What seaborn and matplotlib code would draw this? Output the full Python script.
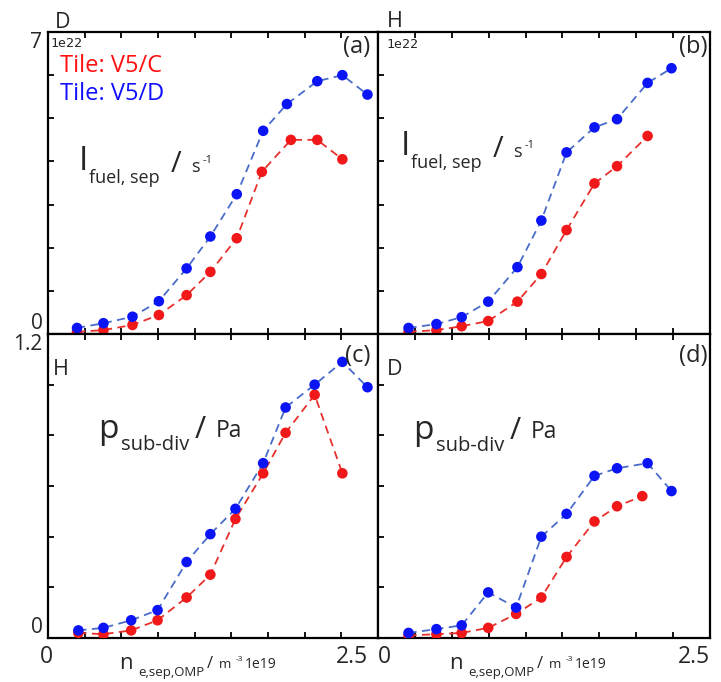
import numpy as np
import pandas as pd
import matplotlib
matplotlib.use("Agg")
import matplotlib.pyplot as plt
import matplotlib.transforms as mtrans
import seaborn as sns

# ---------------- data ----------------
# panel (a): D, I_fuel,sep  [1e22 s^-1]
a_x_C = [0.22, 0.42, 0.64, 0.84, 1.05, 1.23, 1.43, 1.62, 1.84, 2.04, 2.23]
a_y_C = [0.05, 0.09, 0.21, 0.44, 0.90, 1.44, 2.22, 3.76, 4.50, 4.50, 4.05]
a_x_D = [0.22, 0.42, 0.64, 0.84, 1.05, 1.23, 1.43, 1.63, 1.81, 2.04, 2.23, 2.42]
a_y_D = [0.14, 0.25, 0.40, 0.76, 1.52, 2.26, 3.24, 4.71, 5.33, 5.86, 6.00, 5.55]
# panel (b): H, I_fuel,sep  [1e22 s^-1]
b_x_C = [0.23, 0.44, 0.63, 0.83, 1.05, 1.23, 1.42, 1.63, 1.80, 2.03]
b_y_C = [0.05, 0.09, 0.18, 0.30, 0.75, 1.39, 2.41, 3.49, 3.89, 4.59]
b_x_D = [0.23, 0.44, 0.63, 0.83, 1.05, 1.23, 1.42, 1.63, 1.80, 2.03, 2.21]
b_y_D = [0.14, 0.23, 0.39, 0.75, 1.55, 2.63, 4.21, 4.79, 4.98, 5.82, 6.16]
# panel (c): H, p_sub-div [Pa]
c_x_C = [0.23, 0.42, 0.63, 0.83, 1.05, 1.23, 1.42, 1.63, 1.80, 2.02, 2.23]
c_y_C = [0.02, 0.015, 0.03, 0.07, 0.16, 0.25, 0.47, 0.65, 0.81, 0.96, 0.65]
c_x_D = [0.23, 0.42, 0.63, 0.83, 1.05, 1.23, 1.42, 1.63, 1.80, 2.02, 2.23, 2.42]
c_y_D = [0.03, 0.04, 0.07, 0.11, 0.30, 0.41, 0.51, 0.69, 0.91, 1.00, 1.09, 0.99]
# panel (d): D, p_sub-div [Pa]
d_x_C = [0.23, 0.44, 0.63, 0.83, 1.04, 1.23, 1.42, 1.63, 1.80, 1.99]
d_y_C = [0.01, 0.015, 0.02, 0.04, 0.095, 0.16, 0.32, 0.46, 0.52, 0.56]
d_x_D = [0.23, 0.44, 0.63, 0.83, 1.04, 1.23, 1.42, 1.63, 1.80, 2.03, 2.21]
d_y_D = [0.02, 0.035, 0.05, 0.18, 0.12, 0.40, 0.49, 0.64, 0.67, 0.69, 0.58]

tiles = ["V5/C", "V5/D"]
x_ticklabels = ["0", "2.5"]
top_yticklabels = ["0", "7"]
bot_yticklabels = ["0", "1.2"]

panels = {
    "a": (a_x_C, a_y_C, a_x_D, a_y_D),
    "b": (b_x_C, b_y_C, b_x_D, b_y_D),
    "c": (c_x_C, c_y_C, c_x_D, c_y_D),
    "d": (d_x_C, d_y_C, d_x_D, d_y_D),
}
rows = []
for p, (xc, yc, xd, yd) in panels.items():
    rows += [dict(panel=p, tile="V5/C", x=x, y=y) for x, y in zip(xc, yc)]
    rows += [dict(panel=p, tile="V5/D", x=x, y=y) for x, y in zip(xd, yd)]
df = pd.DataFrame(rows)

# ---------------- style ----------------
sns.set_theme(style="white")
plt.rcParams["font.family"] = ["Open Sans", "DejaVu Sans"]

W, H = 721, 682
fig = plt.figure(figsize=(W / 100, H / 100), dpi=100)

def fx(px):
    return px / W

def fy(py):
    return 1 - py / H

L, M, R = 48, 378, 710
T, MID, B = 32, 334, 638
boxes = {
    "a": (L, T, M, MID),
    "b": (M, T, R, MID),
    "c": (L, MID, M, B),
    "d": (M, MID, R, B),
}

line_pal = {"V5/C": "#e8302c", "V5/D": "#4a6cc9"}
mark_pal = {"V5/C": "#f01818", "V5/D": "#0a14f5"}

def shift(label, dx_px):
    label.set_transform(label.get_transform() +
                        mtrans.ScaledTranslation(dx_px / 100, 0, fig.dpi_scale_trans))

axes = {}
for p, (x0, y0, x1, y1) in boxes.items():
    ax = fig.add_axes([fx(x0), fy(y1), fx(x1) - fx(x0), fy(y0) - fy(y1)])
    axes[p] = ax
    sub = df[df.panel == p]
    sns.lineplot(data=sub, x="x", y="y", hue="tile", palette=line_pal,
                 hue_order=tiles, sort=False, estimator=None, legend=False,
                 linewidth=1.3, linestyle=(0, (4.5, 3)), ax=ax, zorder=2)
    for t in tiles:
        sns.scatterplot(data=sub[sub.tile == t], x="x", y="y", color=mark_pal[t],
                        s=58, edgecolor="none", legend=False, ax=ax, zorder=3)
    ax.set_xlim(0, 2.5)
    top_row = p in ("a", "b")
    ymax = 7 if top_row else 1.2
    ax.set_ylim(0, ymax)
    ax.set_xlabel("")
    ax.set_ylabel("")
    ax.set_xticks([0, 2.5], x_ticklabels)
    ax.set_xticks(np.linspace(0, 2.5, 10)[1:-1], minor=True)
    ax.set_yticks([0, ymax], top_yticklabels if top_row else bot_yticklabels)
    ax.set_yticks(np.arange(1, 7) if top_row else np.arange(1, 6) * 0.2, minor=True)
    ax.tick_params(which="both", direction="in", length=4.5, width=1.3,
                   top=True, bottom=True, left=True, right=False, color="black")
    ax.tick_params(axis="y", labelsize=15, pad=4)
    ax.tick_params(axis="x", labelsize=16.5, pad=5)
    if top_row:
        ax.tick_params(labelbottom=False)
    if p in ("b", "d"):
        ax.tick_params(labelleft=False)
    for s in ax.spines.values():
        s.set_visible(True)
        s.set_color("black")
        s.set_linewidth(1.6)
    if p in ("a", "c"):
        yl = ax.get_yticklabels()
        yl[0].set_va("bottom")
        yl[1].set_va("top")
    if p == "c":
        xl = ax.get_xticklabels()
        xl[0].set_ha("center")
        shift(xl[0], -2)
        xl[1].set_ha("right")
        shift(xl[1], -10)
    if p == "d":
        xl = ax.get_xticklabels()
        xl[0].set_ha("left")
        xl[1].set_ha("right")

def txt(px, py, s, **kw):
    kw.setdefault("va", "baseline")
    kw.setdefault("ha", "left")
    fig.text(fx(px), fy(py), s, **kw)

# panel letters / regime letters
for s, (px, py) in {"(a)": (370, 53), "(b)": (707, 53), "(c)": (370, 362), "(d)": (707, 362)}.items():
    txt(px, py, s, ha="right", fontsize=17)
txt(55, 28, "D", fontsize=15.5)
txt(387, 27, "H", fontsize=15.5)
txt(53, 375, "H", fontsize=15.5)
txt(387, 375, "D", fontsize=15.5)

# offsets
txt(50, 47, "1e22", fontsize=9.5, family="DejaVu Sans Mono")
txt(386, 48, "1e22", fontsize=9.5, family="DejaVu Sans Mono")

# legend-like labels
txt(60, 72, "Tile: V5/C", fontsize=17, color="#ff1010")
txt(60, 100, "Tile: V5/D", fontsize=17, color="#1010ff")

# I_fuel,sep / s^-1
for dx, dy in [(0, 0), (322, -15)]:
    txt(79 + dx, 170 + dy, "I", fontsize=24)
    txt(89 + dx, 183 + dy, "fuel, sep", fontsize=13)
    txt(171 + dx, 172 + dy, "/", fontsize=21)
    txt(191 + dx, 172 + dy, "s", fontsize=13)
    txt(203 + dx, 163 + dy, "-1", fontsize=8)

# p_sub-div / Pa
for dx, dy in [(0, 0), (315, 1)]:
    txt(98 + dx, 438 + dy, "p", fontsize=24)
    txt(121 + dx, 450 + dy, "sub-div", fontsize=14.5)
    txt(195 + dx, 438 + dy, "/", fontsize=22)
    txt(216 + dx, 437 + dy, "Pa", fontsize=16.5)

# x-axis labels
for dx in (0, 330):
    txt(119 + dx, 669, "n", fontsize=16)
    txt(138 + dx, 676, "e,sep,OMP", fontsize=9.5)
    txt(207 + dx, 668, "/", fontsize=12)
    txt(219 + dx, 668, "m", fontsize=9.5)
    txt(236 + dx, 661, "-3", fontsize=6)
    txt(245 + dx, 668, "1e19", fontsize=10)

fig.savefig("out.png", dpi=100)
